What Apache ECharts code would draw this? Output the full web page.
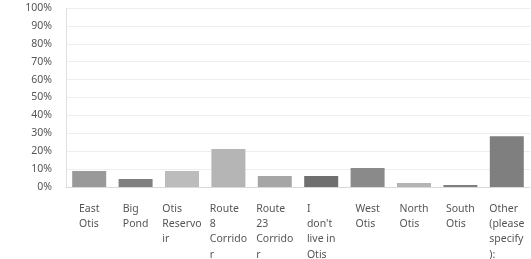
<!DOCTYPE html>
<html>
<head>
<meta charset="utf-8">
<script src="https://cdn.jsdelivr.net/npm/echarts@6/dist/echarts.min.js"></script>
<style>
    html, body { margin: 0; padding: 0; background: #fff; }
    #chart { width: 531px; height: 259px; }
</style>
</head>
<body>
<div id="chart"></div>
<script>
// categories as shown under the axis (wrapped like the original)
const categories = [
    'East\nOtis', 'Big\nPond', 'Otis\nReservo\nir', 'Route\n8\nCorrido\nr', 'Route\n23\nCorrido\nr',
    'I\ndon\'t\nlive in\nOtis', 'West\nOtis', 'North\nOtis', 'South\nOtis', 'Other\n(please\nspecify\n):'
];
const percents = [8.9, 4.5, 8.9, 21.2, 6.1, 6.1, 10.6, 2.2, 1.1, 28.4];
const barColors = ['#999999', '#808080', '#bcbcbc', '#b5b5b5', '#a6a6a6', '#6f6f6f', '#8a8a8a', '#b4b4b4', '#7f7f7f', '#7f7f7f'];

var myChart = echarts.init(document.getElementById('chart'));

myChart.setOption({
    animation: false,
    grid: {
        left: 66,
        right: 1,
        top: 8,
        bottom: 72,
        outerBoundsMode: 'none'
    },
    xAxis: {
        type: 'category',
        data: categories,
        axisLine: { lineStyle: { color: '#d9d9d9', width: 1 } },
        axisTick: { show: false },
        axisLabel: {
            interval: 0,
            margin: 14,
            align: 'center',
            color: '#555',
            fontFamily: 'Noto Sans',
            fontSize: 10.5,
            lineHeight: 15.3,
            // lines left-aligned inside a centred block
            formatter: function (v) {
                return v.split('\n').map(function (s) { return '{t|' + s + '}'; }).join('\n');
            },
            rich: {
                t: { align: 'left', color: '#555', fontFamily: 'Noto Sans', fontSize: 10.5, lineHeight: 15.3 }
            }
        }
    },
    yAxis: {
        type: 'value',
        min: 0,
        max: 100,
        interval: 10,
        axisLine: { show: true, lineStyle: { color: '#e0e0e0' } },
        splitLine: { lineStyle: { color: '#eeeeee' } },
        axisLabel: {
            margin: 14,
            color: '#555',
            fontFamily: 'Noto Sans',
            fontSize: 10.5,
            formatter: '{value}%'
        }
    },
    series: [{
        type: 'bar',
        data: percents.map(function (v, i) {
            return { value: v, itemStyle: { color: barColors[i] } };
        }),
        barWidth: 34
    }]
});
</script>
</body>
</html>
